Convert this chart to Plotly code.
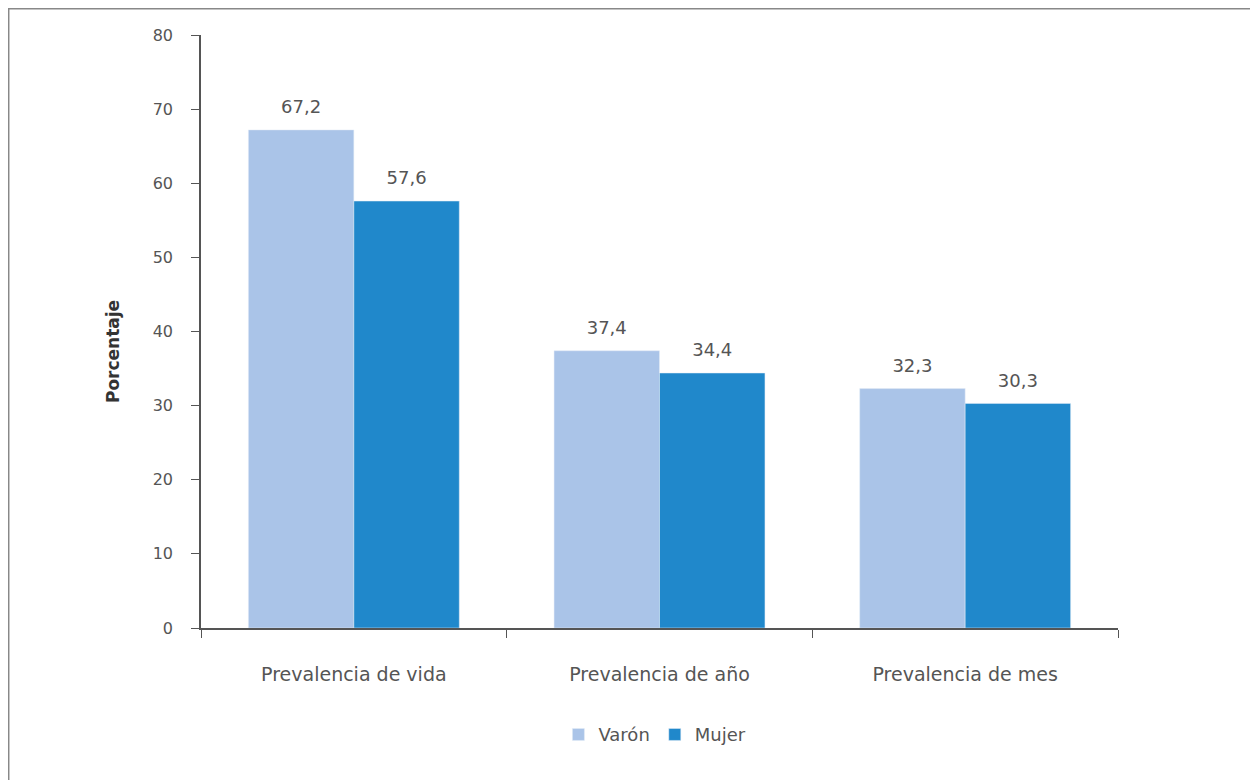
import plotly.graph_objects as go

categories = ["Prevalencia de vida", "Prevalencia de año", "Prevalencia de mes"]
varon = [67.2, 37.4, 32.3]
mujer = [57.6, 34.4, 30.3]
y_ticks = [0, 10, 20, 30, 40, 50, 60, 70, 80]
y_title = "Porcentaje"

font_family = "DejaVu Sans, Verdana, sans-serif"
txt_color = "#555555"
c_varon = "#AAC4E8"
c_mujer = "#2088CB"

fig = go.Figure()
fig.add_trace(go.Bar(x=categories, y=varon, name="Varón", marker_color=c_varon,
                     offsetgroup="v", hoverinfo="x+y"))
fig.add_trace(go.Bar(x=categories, y=mujer, name="Mujer", marker_color=c_mujer,
                     offsetgroup="m", hoverinfo="x+y"))
# value labels, grouped like the bars
for vals, grp in [(varon, "v"), (mujer, "m")]:
    fig.add_trace(go.Scatter(x=categories, y=vals, mode="markers+text",
                             text=[f"{v:.1f}".replace(".", ",") for v in vals],
                             textposition="top center", offsetgroup=grp,
                             marker=dict(size=18, opacity=0),
                             textfont=dict(size=18, color=txt_color, family=font_family),
                             showlegend=False, hoverinfo="skip", cliponaxis=False))

fig.update_layout(
    width=1250, height=772,
    margin=dict(l=193, r=140, t=27, b=152),
    paper_bgcolor="white", plot_bgcolor="white",
    barmode="group", bargap=0.31, bargroupgap=0,
    scattermode="group", scattergap=0.31,
    separators=",.",
    font=dict(family=font_family, color=txt_color, size=16),
    showlegend=True,
    legend=dict(orientation="h", x=0.495, xanchor="center", y=-0.18, yanchor="middle",
                font=dict(size=18, color=txt_color), traceorder="normal"),
    shapes=[dict(type="rect", xref="paper", yref="paper",
                 x0=-0.2105, x1=1.3, y0=-0.4, y1=1.0455,
                 line=dict(color="#888888", width=3), fillcolor="rgba(0,0,0,0)", layer="below")],
    annotations=[dict(text=f"<b>{y_title}</b>", xref="paper", yref="paper",
                      x=-0.096, y=0.467, xanchor="center", yanchor="middle",
                      textangle=-90, showarrow=False,
                      font=dict(size=17, color="#333333", family=font_family))],
)
fig.update_xaxes(showline=True, linecolor="#555555", linewidth=1.5,
                 ticks="outside", tickson="boundaries", ticklen=8, tickcolor="#555555",
                 tickfont=dict(size=19, color=txt_color), ticklabelstandoff=28,
                 showgrid=False)
fig.update_yaxes(range=[0, 80], tickvals=y_ticks, showline=True, linecolor="#555555",
                 linewidth=1.5, ticks="outside", ticklen=8, tickcolor="#555555",
                 tickfont=dict(size=16, color=txt_color), ticklabelstandoff=15,
                 showgrid=False, zeroline=False)

fig.write_html("out.html")
